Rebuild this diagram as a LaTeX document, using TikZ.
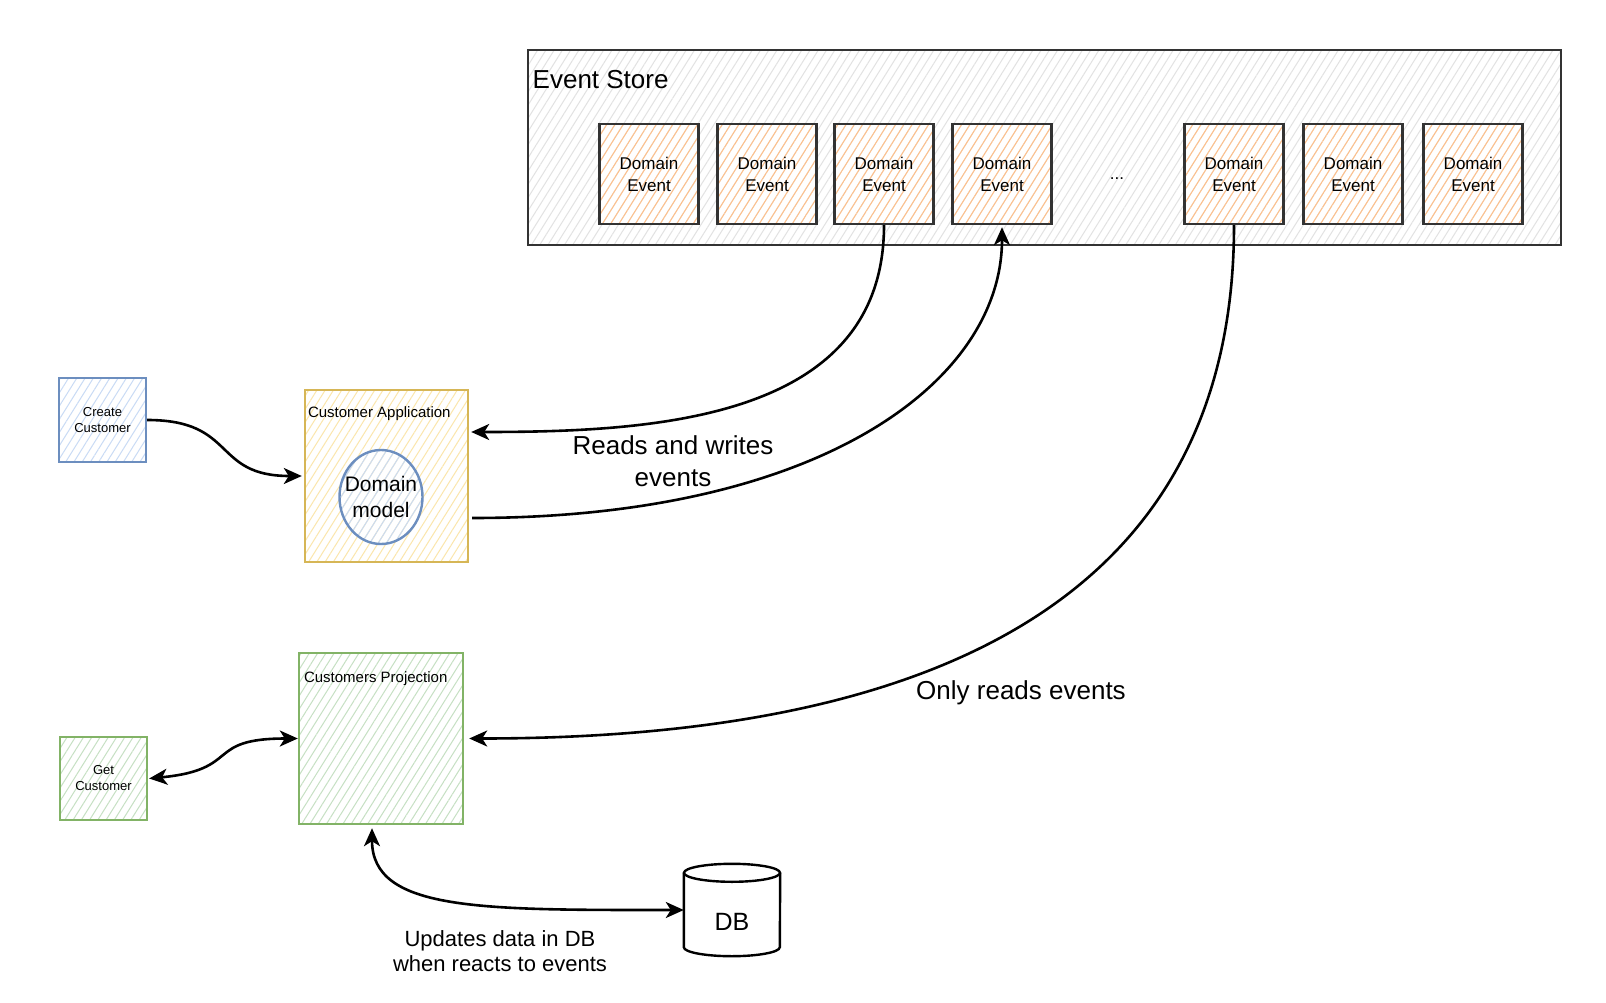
\documentclass[tikz,border=0pt]{standalone}
\usepackage{fontspec}
\setmainfont{Liberation Sans}
\usetikzlibrary{arrows.meta,patterns.meta,shapes.geometric}
\definecolor{strokegray}{HTML}{333333}
\definecolor{storehatch}{HTML}{E2E2E2}
\definecolor{evorange}{HTML}{FFC08A}
\definecolor{bluestroke}{HTML}{6C8EBF}
\definecolor{bluehatch}{HTML}{C9DBF5}
\definecolor{yelstroke}{HTML}{D6B656}
\definecolor{yelhatch}{HTML}{FBE6AC}
\definecolor{grnstroke}{HTML}{82B366}
\definecolor{grnhatch}{HTML}{C6E0C3}
\newcommand{\fsz}[2]{\fontsize{#1pt}{#2pt}\selectfont}
\tikzset{
  hatch/.style={pattern={Lines[angle=58,distance=7pt,line width=1pt]}, pattern color=#1},
  box/.style={rectangle, draw, line width=2.4pt, inner sep=0pt, align=center},
  storebox/.style={box, draw=strokegray, hatch=storehatch},
  evt/.style={box, draw=strokegray, hatch=evorange, minimum width=99pt, minimum height=100pt, font=\fsz{17}{22}},
  bluebox/.style={box, draw=bluestroke, hatch=bluehatch},
  yelbox/.style={box, draw=yelstroke, hatch=yelhatch},
  grnbox/.style={box, draw=grnstroke, hatch=grnhatch},
  lbl/.style={inner sep=0pt, align=center},
  >={Stealth[length={18pt 0 0},width={16pt 0 0},inset={5pt 0}]},
  conn/.style={line width=2.6pt, draw=black, ->},
  conn2/.style={line width=2.6pt, draw=black, <->},
  dbline/.style={line width=2.4pt, draw=black, fill=white},
}
\begin{document}
\begin{tikzpicture}[x=1pt,y=-1pt]
\useasboundingbox[fill=white] (0,0) rectangle (1606,1003);

% Event store
\node[storebox, minimum width=1033pt, minimum height=195pt] (store) at (1044.5,147.5) {};
\node[lbl, anchor=west, font=\fsz{26}{30}] (storelbl) at ([xshift=5pt,yshift=-30pt]store.north west) {Event Store};

\node[evt] (e1) at (649,174) {Domain\\Event};
\node[evt] (e2) at (767,174) {Domain\\Event};
\node[evt] (e3) at (884,174) {Domain\\Event};
\node[evt] (e4) at (1002,174) {Domain\\Event};
\node[lbl, font=\fsz{17}{22}] (dots) at (1117,179) {...};
\node[evt] (e5) at (1234,174) {Domain\\Event};
\node[evt] (e6) at (1353,174) {Domain\\Event};
\node[evt] (e7) at (1473,174) {Domain\\Event};

% Customer application
\node[bluebox, minimum width=87pt, minimum height=84pt, font=\fsz{13}{16}] (create) at (102.5,420) {Create\\Customer};
\node[yelbox, minimum width=163pt, minimum height=172pt] (app) at (386.5,476) {};
\node[lbl, anchor=west, font=\fsz{15}{18}] (applbl) at ([xshift=4pt,yshift=62pt]app.west) {Customer Application};
\node[ellipse, draw=bluestroke, line width=2.4pt, hatch=bluehatch, minimum width=83pt, minimum height=94pt,
      inner xsep=-8pt, inner ysep=0pt, align=center, font=\fsz{21}{25.5}] (model) at (381,497) {Domain\\model};

% Projection
\node[grnbox, minimum width=87pt, minimum height=83pt, font=\fsz{13}{16}] (get) at (103.5,778.5) {Get\\Customer};
\node[grnbox, minimum width=164pt, minimum height=171pt] (proj) at (381,738.5) {};
\node[lbl, anchor=west, font=\fsz{15}{18}] (projlbl) at ([xshift=6pt,yshift=60pt]proj.west) {Customers Projection};

% DB cylinder
\node[minimum width=96pt, minimum height=92pt, inner sep=0pt] (db) at (732,910) {};
\draw[dbline] ([yshift=-9pt]db.north west) -- ([yshift=9pt]db.south west)
  arc[start angle=180, end angle=360, x radius=48pt, y radius=9pt] -- ([yshift=-9pt]db.north east);
\draw[dbline] ([yshift=-9pt]db.north) ellipse[x radius=48pt, y radius=9pt];
\node[lbl, font=\fsz{25}{30}] (dblbl) at ([yshift=-12pt]db.center) {DB};

% Labels
\node[lbl, font=\fsz{26}{32}] (rwlbl) at (673,461) {Reads and writes\\events};
\node[lbl, font=\fsz{26}{32}] (onlylbl) at (1021,693) {Only reads events};
\node[lbl, font=\fsz{22}{25}] (updlbl) at (500,951) {Updates data in DB\\when reacts to events};

% Connectors
\draw[conn] (create.east) .. controls +(90,0) and +(-90,0) .. ([xshift=-2pt]app.west);
\draw[conn] (e3.south) .. controls +(0,196) and +(180,0) .. ([xshift=2pt,yshift=44pt]app.east);
\draw[conn] ([xshift=3pt,yshift=-42pt]app.east) .. controls +(349,0) and +(0,154) .. ([yshift=-2pt]e4.south);
\draw[conn] (e5.south) .. controls +(0,343) and +(512,0) .. ([xshift=5pt]proj.east);
\draw[conn2] ([xshift=1pt]get.east) .. controls +(93,-9) and +(-94,0) .. (proj.west);
\draw[conn2] ([xshift=-9pt,yshift=-3pt]proj.south) .. controls +(0,83) and +(-203,0) .. (db.west);
\end{tikzpicture}
\end{document}
